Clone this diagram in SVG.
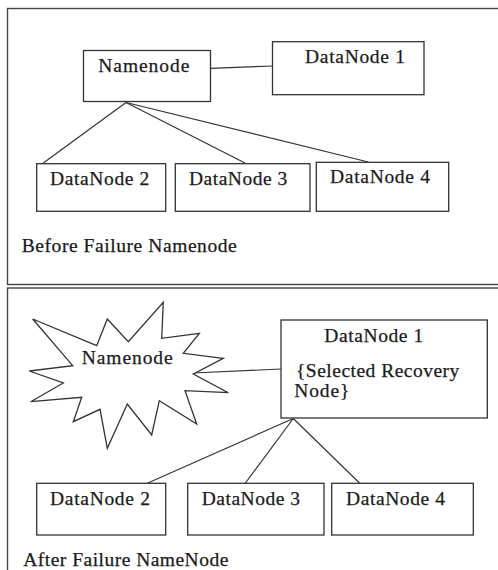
<svg xmlns="http://www.w3.org/2000/svg" width="498" height="570" viewBox="0 0 498 570">
<style>
.frame{fill:none;stroke:#444;stroke-width:1.4}
.box{fill:#fff;stroke:#333;stroke-width:1.3}
.lbl{font-family:"Liberation Serif","Times New Roman",serif;font-size:19.5px;fill:#1a1a1a;stroke:#1a1a1a;stroke-width:0.25}
.conn line{stroke:#333;stroke-width:1.2}
</style>
<rect width="498" height="570" fill="#fff"/>
<g id="frame-before"><rect class="frame" x="7.5" y="8.5" width="500" height="276"/></g>
<g id="frame-after"><rect class="frame" x="7.5" y="288" width="500" height="300"/></g>
<g id="connectors" class="conn">
<line x1="210" y1="68.3" x2="272.5" y2="66"/>
<line x1="126" y1="102.5" x2="43.3" y2="163"/>
<line x1="126" y1="102.5" x2="245" y2="163"/>
<line x1="126" y1="102.5" x2="368.3" y2="162"/>
<line x1="193" y1="373" x2="281" y2="369"/>
<line x1="293.3" y1="418.5" x2="146.7" y2="483.5"/>
<line x1="293.3" y1="418.5" x2="245" y2="483.5"/>
<line x1="293.3" y1="418.5" x2="360" y2="483.5"/>
</g>
<g id="namenode-before"><rect class="box" x="83.5" y="50.5" width="127" height="51"/><text class="lbl" x="98.3" y="71.7" textLength="91">Namenode</text></g>
<g id="datanode1-before"><rect class="box" x="272.5" y="41.7" width="151.5" height="53"/><text class="lbl" x="305" y="63.3" textLength="100">DataNode 1</text></g>
<g id="datanode2-before"><rect class="box" x="36.7" y="163.7" width="129" height="47.6"/><text class="lbl" x="50" y="185" textLength="99.3">DataNode 2</text></g>
<g id="datanode3-before"><rect class="box" x="175.3" y="163.7" width="134.7" height="47.6"/><text class="lbl" x="189" y="185" textLength="98.3">DataNode 3</text></g>
<g id="datanode4-before"><rect class="box" x="316.3" y="162.3" width="132.4" height="49"/><text class="lbl" x="330" y="183.3" textLength="100">DataNode 4</text></g>
<text class="lbl" x="21.7" y="251.7" textLength="215">Before Failure Namenode</text>
<g id="namenode-failed"><polygon fill="#fff" stroke="#333" stroke-width="1.3" stroke-linejoin="miter" points="32.7,319 96.7,345.7 107.3,319 128.3,341.7 163.3,302.3 161.7,338.3 199.3,333.3 183.3,353.3 223.3,358.3 193.3,374 228.3,392.7 185,390.7 196.7,424 159.3,400.7 151.7,435 127.3,404 107.3,448.3 100,409.3 73.3,421.7 81.7,397.3 30.7,401.7 63.3,383 29.3,371 72.7,365.7"/><text class="lbl" x="81.7" y="364.3" textLength="91">Namenode</text></g>
<g id="datanode1-after"><rect class="box" x="281" y="320" width="206.3" height="98"/><text class="lbl" x="324.3" y="341.7" textLength="99">DataNode 1</text><text class="lbl" x="296" y="376.7" textLength="163.3">{Selected Recovery</text><text class="lbl" x="294.3" y="397.3" textLength="55">Node}</text></g>
<g id="datanode2-after"><rect class="box" x="36.7" y="483.3" width="129" height="51.7"/><text class="lbl" x="50" y="505" textLength="100">DataNode 2</text></g>
<g id="datanode3-after"><rect class="box" x="187.7" y="483.3" width="136.3" height="51.7"/><text class="lbl" x="201.7" y="505" textLength="98.3">DataNode 3</text></g>
<g id="datanode4-after"><rect class="box" x="331.7" y="483.3" width="141.6" height="51.7"/><text class="lbl" x="346" y="505" textLength="99">DataNode 4</text></g>
<text class="lbl" x="23.3" y="566" textLength="205">After Failure NameNode</text>
</svg>
